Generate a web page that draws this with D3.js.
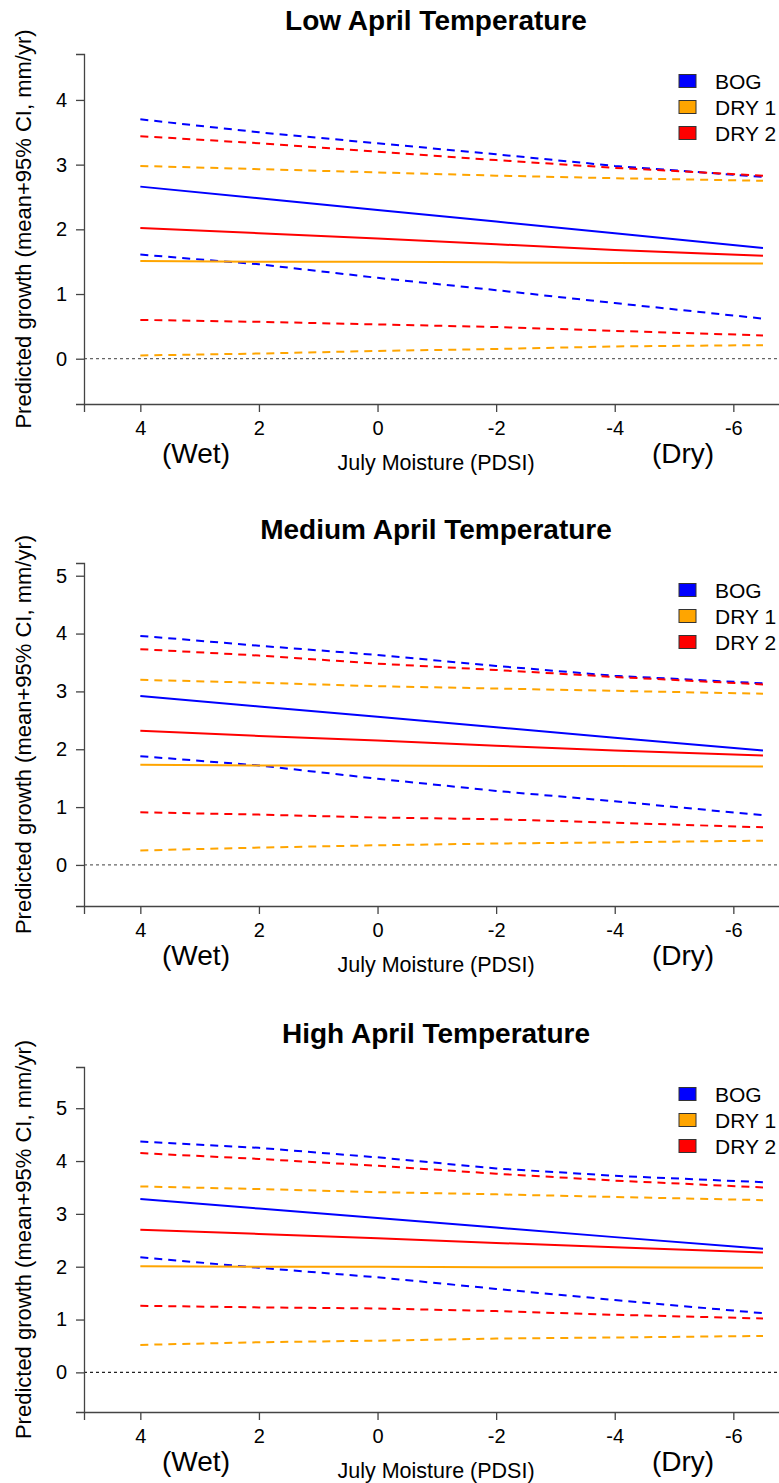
<!DOCTYPE html>
<html>
<head>
<meta charset="utf-8">
<script src="https://cdn.jsdelivr.net/npm/d3@7"></script>
<style>
  body { margin: 0; background: #fff; }
  svg { display: block; font-family: "Liberation Sans", Arial, sans-serif; }
  .axis path, .axis line { stroke: #444; stroke-width: 1.3; }
  .axis text { font-size: 20px; fill: #000; font-family: "Liberation Sans", Arial, sans-serif; }
</style>
</head>
<body>
<svg></svg>
<script>
const pdsi = [4, 2, 0, -2, -4, -6.5];
const xTicks = [4, 2, 0, -2, -4, -6];
const sites = ['BOG', 'DRY 1', 'DRY 2'];
const siteColors = ['#0000ff', '#ffa500', '#ff0000'];
const panelTitles = ['Low April Temperature', 'Medium April Temperature', 'High April Temperature'];

// Low April temperature
const lowBogMean   = [2.66, 2.48, 2.30, 2.12, 1.94, 1.71];
const lowBogUpper  = [3.70, 3.50, 3.33, 3.16, 2.98, 2.81];
const lowBogLower  = [1.61, 1.46, 1.25, 1.06, 0.86, 0.62];
const lowDry1Mean  = [1.51, 1.50, 1.50, 1.49, 1.48, 1.47];
const lowDry1Upper = [2.98, 2.93, 2.88, 2.83, 2.79, 2.75];
const lowDry1Lower = [0.05, 0.08, 0.12, 0.15, 0.19, 0.21];
const lowDry2Mean  = [2.02, 1.94, 1.86, 1.77, 1.68, 1.59];
const lowDry2Upper = [3.44, 3.33, 3.20, 3.07, 2.95, 2.83];
const lowDry2Lower = [0.60, 0.57, 0.53, 0.49, 0.43, 0.36];

// Medium April temperature
const medBogMean   = [2.92, 2.74, 2.56, 2.38, 2.20, 1.98];
const medBogUpper  = [3.96, 3.79, 3.63, 3.44, 3.27, 3.14];
const medBogLower  = [1.88, 1.72, 1.49, 1.28, 1.10, 0.86];
const medDry1Mean  = [1.73, 1.72, 1.72, 1.71, 1.71, 1.70];
const medDry1Upper = [3.20, 3.15, 3.09, 3.05, 3.01, 2.96];
const medDry1Lower = [0.25, 0.30, 0.34, 0.37, 0.39, 0.42];
const medDry2Mean  = [2.32, 2.23, 2.15, 2.06, 1.98, 1.89];
const medDry2Upper = [3.73, 3.62, 3.48, 3.37, 3.25, 3.12];
const medDry2Lower = [0.91, 0.87, 0.82, 0.79, 0.73, 0.65];

// High April temperature
const highBogMean   = [3.28, 3.10, 2.92, 2.74, 2.56, 2.34];
const highBogUpper  = [4.37, 4.25, 4.07, 3.86, 3.72, 3.60];
const highBogLower  = [2.18, 1.98, 1.80, 1.58, 1.37, 1.12];
const highDry1Mean  = [2.01, 2.00, 2.00, 1.99, 1.99, 1.98];
const highDry1Upper = [3.52, 3.47, 3.41, 3.37, 3.32, 3.26];
const highDry1Lower = [0.52, 0.57, 0.60, 0.64, 0.66, 0.69];
const highDry2Mean  = [2.70, 2.62, 2.54, 2.45, 2.37, 2.27];
const highDry2Upper = [4.15, 4.04, 3.91, 3.76, 3.63, 3.50];
const highDry2Lower = [1.26, 1.23, 1.21, 1.16, 1.09, 1.02];

const yMin = [-0.70, -0.71, -0.75];
const yMax = [4.71, 5.22, 5.78];
const yTicks = [[0, 1, 2, 3, 4], [0, 1, 2, 3, 4, 5], [0, 1, 2, 3, 4, 5]];

const panelSeries = [
    [[lowBogMean, lowBogUpper, lowBogLower], [lowDry1Mean, lowDry1Upper, lowDry1Lower], [lowDry2Mean, lowDry2Upper, lowDry2Lower]],
    [[medBogMean, medBogUpper, medBogLower], [medDry1Mean, medDry1Upper, medDry1Lower], [medDry2Mean, medDry2Upper, medDry2Lower]],
    [[highBogMean, highBogUpper, highBogLower], [highDry1Mean, highDry1Upper, highDry1Lower], [highDry2Mean, highDry2Upper, highDry2Lower]]
];

(() => {
    const width = 779, height = 1483;
    const left = 84;
    const tops = [54, 563, 1067];
    const bottoms = [404, 906, 1412];
    const zeroColors = ['#666', '#666', '#222'];

    const svg = d3.select('svg')
        .attr('width', width)
        .attr('height', height);

    // x axis is reversed: wet on the left, dry on the right
    const x = d3.scaleLinear()
        .domain([4.95, -7.05])
        .range([left, left + 12 * 59.3]);

    // plain hyphen minus like the original
    const fmt = d => String(d);

    panelTitles.forEach((title, p) => {
        const top = tops[p], bottom = bottoms[p];
        const g = svg.append('g');

        const y = d3.scaleLinear()
            .domain([yMin[p], yMax[p]])
            .range([bottom, top]);

        // title
        g.append('text')
            .attr('x', 436)
            .attr('y', top - 24)
            .attr('text-anchor', 'middle')
            .style('font-size', '28px')
            .style('font-weight', 'bold')
            .text(title);

        // zero reference line
        g.append('line')
            .attr('x1', left).attr('x2', width)
            .attr('y1', y(0)).attr('y2', y(0))
            .attr('stroke', zeroColors[p])
            .attr('stroke-width', 1.2)
            .attr('stroke-dasharray', '3,3');

        // lines: mean solid, CI dashed
        const line = d3.line()
            .x((d, i) => x(pdsi[i]))
            .y(d => y(d));

        panelSeries[p].forEach((series, s) => {
            series.forEach((vals, k) => {
                g.append('path')
                    .datum(vals)
                    .attr('d', line)
                    .attr('fill', 'none')
                    .attr('stroke', siteColors[s])
                    .attr('stroke-width', 2)
                    .attr('stroke-dasharray', k === 0 ? null : '8,6');
            });
        });

        // axes
        g.append('g')
            .attr('class', 'axis')
            .attr('transform', `translate(${left}, 0)`)
            .call(d3.axisLeft(y).tickValues(yTicks[p]).tickFormat(fmt).tickSizeOuter(0).tickSize(8).tickPadding(9));

        g.append('g')
            .attr('class', 'axis')
            .attr('transform', `translate(0, ${bottom})`)
            .call(d3.axisBottom(x).tickValues(xTicks).tickFormat(fmt).tickSizeOuter(0).tickSize(8).tickPadding(9));

        // axis labels
        g.append('text')
            .attr('transform', `translate(31, ${(top + bottom) / 2}) rotate(-90)`)
            .attr('text-anchor', 'middle')
            .style('font-size', '22px')
            .text('Predicted growth (mean+95% CI, mm/yr)');

        g.append('text')
            .attr('x', 436)
            .attr('y', bottom + 66)
            .attr('text-anchor', 'middle')
            .style('font-size', '21.5px')
            .text('July Moisture (PDSI)');

        g.append('text')
            .attr('x', 196)
            .attr('y', bottom + 59)
            .attr('text-anchor', 'middle')
            .style('font-size', '28px')
            .text('(Wet)');

        g.append('text')
            .attr('x', 683)
            .attr('y', bottom + 59)
            .attr('text-anchor', 'middle')
            .style('font-size', '28px')
            .text('(Dry)');

        // legend
        const legendKeys = g.selectAll('.key')
            .data(sites)
            .enter().append('g')
            .attr('class', 'key')
            .attr('transform', (d, i) => `translate(679, ${top + 27 + i * 26})`);

        legendKeys.append('rect')
            .attr('x', 0)
            .attr('y', -6.5)
            .attr('width', 17)
            .attr('height', 13)
            .attr('fill', (d, i) => siteColors[i])
            .attr('stroke', '#333')
            .attr('stroke-width', 1);

        legendKeys.append('text')
            .attr('x', 36)
            .attr('dy', '0.36em')
            .style('font-size', '21px')
            .text(d => d);
    });
})();
</script>
</body>
</html>
